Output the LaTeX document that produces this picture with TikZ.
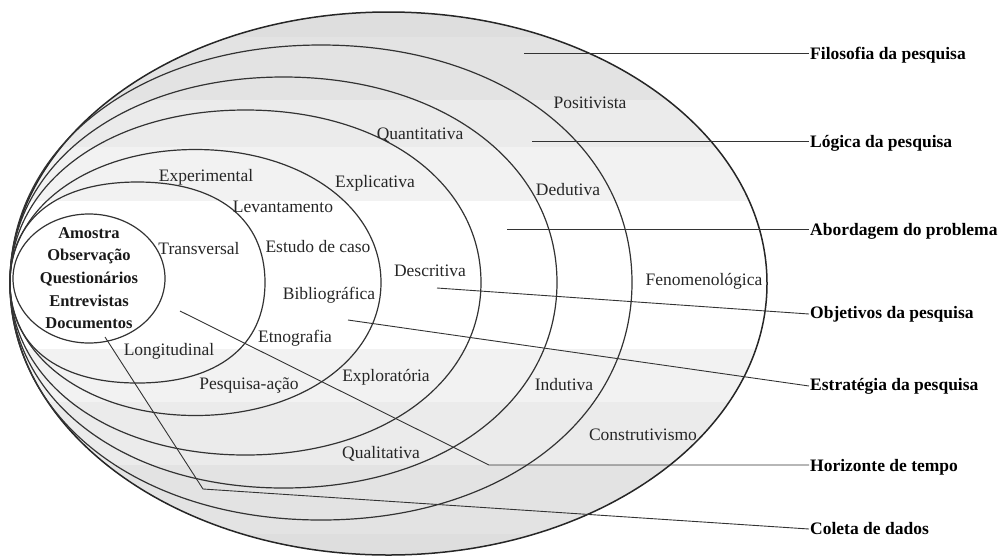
\documentclass[tikz,border=0pt]{standalone}
\usepackage{fontspec}
\setmainfont{Liberation Serif}
\newcommand{\ovaldraw}[6]{%
  \draw[#6] (#1-#3,#2) .. controls (#1-#3,#2-#5*#4) and (#1-#5*#3,#2-#4) .. (#1,#2-#4)
    .. controls (#1+#5*#3,#2-#4) and (#1+#3,#2-#5*#4) .. (#1+#3,#2)
    .. controls (#1+#3,#2+#5*#4) and (#1+#5*#3,#2+#4) .. (#1,#2+#4)
    .. controls (#1-#5*#3,#2+#4) and (#1-#3,#2+#5*#4) .. cycle;}
\begin{document}
\begin{tikzpicture}[x=1pt,y=-1pt,
  ring/.style={draw=black!80, line width=1.2pt},
  outerring/.style={draw=black!85, line width=1.5pt},
  lbl/.style={font=\fontsize{17.5}{20}\selectfont, text=black!85, inner sep=0pt},
  inlbl/.style={font=\fontsize{16.5}{20}\selectfont\bfseries, text=black!90, inner sep=0pt},
  cat/.style={font=\fontsize{17.5}{20}\selectfont\bfseries, anchor=west, inner sep=1pt, text=black},
  conn/.style={draw=black!80, line width=0.9pt}]
\useasboundingbox (0,0) rectangle (1003,558);
% background bands
\begin{scope}
  \clip (388.5,283.5) ellipse [x radius=378.5pt, y radius=271.5pt];
  \fill[black!13] (0,0) rectangle (1003,37);
  \fill[black!11] (0,37) rectangle (1003,100);
  \fill[black!8] (0,100) rectangle (1003,147);
  \fill[black!5] (0,147) rectangle (1003,201);
  \fill[black!5] (0,349) rectangle (1003,402);
  \fill[black!8] (0,402) rectangle (1003,465);
  \fill[black!11] (0,465) rectangle (1003,534);
  \fill[black!13] (0,534) rectangle (1003,558);
\end{scope}
% nested ovals
\ovaldraw{388.5}{283.5}{378.5}{271.5}{0.5523}{outerring}
\ovaldraw{321}{282.5}{311}{237.5}{0.58}{ring}
\ovaldraw{283.5}{282.5}{273.5}{205.5}{0.58}{ring}
\ovaldraw{245.5}{282.5}{235.5}{172.5}{0.58}{ring}
\ovaldraw{195.5}{282.5}{185.5}{133}{0.57}{ring}
\ovaldraw{137.5}{282.5}{127.5}{100.5}{0.63}{ring}
\ovaldraw{89}{278.5}{76}{64.5}{0.5523}{ring}
% ring labels
\node[lbl] (positivista) at (590,103) {Positivista};
\node[lbl] (fenomeno) at (704,281) {Fenomenológica};
\node[lbl] (construt) at (643,435) {Construtivismo};
\node[lbl] (dedutiva) at (568,190) {Dedutiva};
\node[lbl] (indutiva) at (564,385) {Indutiva};
\node[lbl] (quanti) at (420,135) {Quantitativa};
\node[lbl] (quali) at (381,454) {Qualitativa};
\node[lbl] (explicativa) at (375,183) {Explicativa};
\node[lbl] (descritiva) at (430,271) {Descritiva};
\node[lbl] (explorat) at (386,377) {Exploratória};
\node[lbl] (experim) at (206,177) {Experimental};
\node[lbl] (levant) at (283,207) {Levantamento};
\node[lbl] (estudo) at (318,247) {Estudo de caso};
\node[lbl] (biblio) at (329,295) {Bibliográfica};
\node[lbl] (etno) at (295,338) {Etnografia};
\node[lbl] (pesqacao) at (249,385) {Pesquisa-ação};
\node[lbl] (transv) at (199,249) {Transversal};
\node[lbl] (longit) at (169,351) {Longitudinal};
% inner labels
\node[inlbl] (amostra) at (89,233) {Amostra};
\node[inlbl] (observ) at (89,256) {Observação};
\node[inlbl] (quest) at (89,279) {Questionários};
\node[inlbl] (entrev) at (89,301) {Entrevistas};
\node[inlbl] (docum) at (89,323) {Documentos};
% category labels
\node[cat] (filosofia) at (809,55) {Filosofia da pesquisa};
\node[cat] (logica) at (809,143) {Lógica da pesquisa};
\node[cat] (abordagem) at (809,231) {Abordagem do problema};
\node[cat] (objetivos) at (809,314) {Objetivos da pesquisa};
\node[cat] (estrategia) at (809,386) {Estratégia da pesquisa};
\node[cat] (horizonte) at (809,467) {Horizonte de tempo};
\node[cat] (coleta) at (809,529) {Coleta de dados};
% connector start points and bends
\coordinate (s1) at (524,53);
\coordinate (s2) at (532,141);
\coordinate (s3) at (507,229);
\coordinate (s4) at (437,288);
\coordinate (s5) at (348,320);
\coordinate (s6) at (180,311);
\coordinate (b6) at (489,465);
\coordinate (s7) at (105,337);
\coordinate (b7) at (203,489);
\draw[conn] (s1) -- (s1 -| filosofia.west);
\draw[conn] (s2) -- (s2 -| logica.west);
\draw[conn] (s3) -- (s3 -| abordagem.west);
\draw[conn] (s4) -- (objetivos.west);
\draw[conn] (s5) -- (estrategia.west);
\draw[conn] (s6) -- (b6) -- (b6 -| horizonte.west);
\draw[conn] (s7) -- (b7) -- (coleta.west);
\end{tikzpicture}
\end{document}
